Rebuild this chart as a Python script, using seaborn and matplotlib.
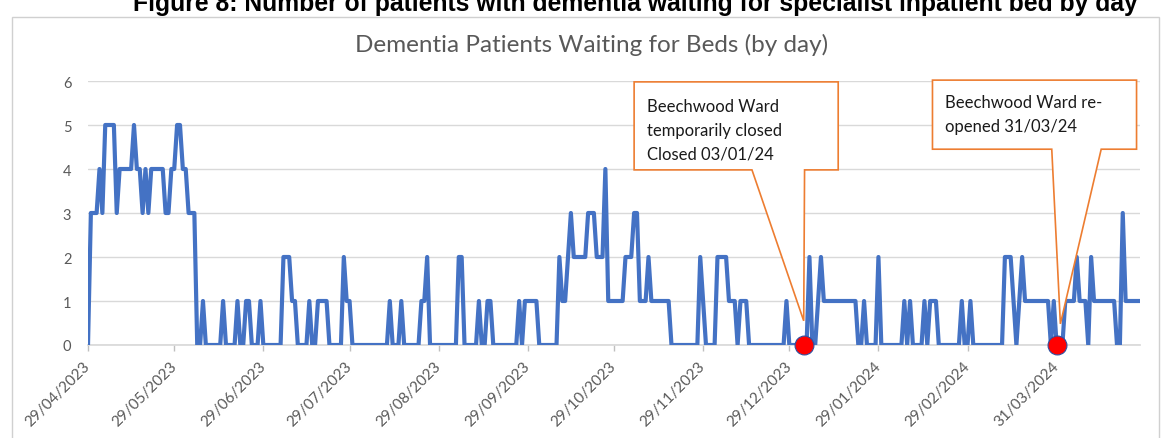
import numpy as np
import pandas as pd
import matplotlib
matplotlib.use("Agg")
import matplotlib.pyplot as plt
import matplotlib.dates as mdates
from matplotlib.patches import Polygon, Rectangle
import seaborn as sns

# ---------------- data ----------------
start_date = "2023-04-29"
patients_waiting = [
    0, 3, 3, 3, 4, 3, 5, 5, 5, 5,
    3, 4, 4, 4, 4, 4, 5, 4, 4, 3,
    4, 3, 4, 4, 4, 4, 4, 3, 3, 4,
    4, 5, 5, 4, 4, 3, 3, 3, 0, 0,
    1, 0, 0, 0, 0, 0, 0, 1, 0, 0,
    0, 0, 1, 0, 0, 1, 1, 0, 0, 0,
    1, 0, 0, 0, 0, 0, 0, 0, 2, 2,
    2, 1, 1, 0, 0, 0, 0, 1, 0, 0,
    1, 1, 1, 1, 0, 0, 0, 0, 0, 2,
    1, 1, 0, 0, 0, 0, 0, 0, 0, 0,
    0, 0, 0, 0, 0, 1, 0, 0, 0, 1,
    0, 0, 0, 0, 0, 0, 1, 1, 2, 0,
    0, 0, 0, 0, 0, 0, 0, 0, 0, 2,
    2, 0, 0, 0, 0, 0, 1, 0, 0, 1,
    1, 0, 0, 0, 0, 0, 0, 0, 0, 0,
    1, 0, 1, 1, 1, 1, 1, 0, 0, 0,
    0, 0, 0, 0, 2, 1, 1, 2, 3, 2,
    2, 2, 2, 2, 3, 3, 3, 2, 2, 2,
    4, 1, 1, 1, 1, 1, 1, 2, 2, 2,
    3, 3, 1, 1, 1, 2, 1, 1, 1, 1,
    1, 1, 1, 0, 0, 0, 0, 0, 0, 0,
    0, 0, 0, 2, 1, 0, 0, 0, 0, 2,
    2, 2, 2, 1, 1, 1, 0, 1, 1, 1,
    0, 0, 0, 0, 0, 0, 0, 0, 0, 0,
    0, 0, 0, 1, 0, 0, 0, 0, 0, 0,
    0, 2, 0, 0, 1, 2, 1, 1, 1, 1,
    1, 1, 1, 1, 1, 1, 1, 1, 0, 0,
    1, 0, 0, 0, 0, 2, 0, 0, 0, 0,
    0, 0, 0, 0, 1, 0, 1, 0, 0, 0,
    0, 1, 0, 1, 1, 1, 0, 0, 0, 0,
    0, 0, 0, 0, 1, 0, 0, 1, 0, 0,
    0, 0, 0, 0, 0, 0, 0, 0, 0, 2,
    2, 2, 1, 0, 1, 2, 1, 1, 1, 1,
    1, 1, 1, 1, 1, 0, 1, 0, 0, 0,
    1, 1, 1, 1, 2, 1, 1, 1, 0, 2,
    1, 1, 1, 1, 1, 1, 1, 1, 0, 0,
    3, 1, 1, 1, 1, 1, 1,
]
tick_labels = ["29/04/2023", "29/05/2023", "29/06/2023", "29/07/2023",
               "29/08/2023", "29/09/2023", "29/10/2023", "29/11/2023",
               "29/12/2023", "29/01/2024", "29/02/2024", "31/03/2024"]
y_ticks = [0, 1, 2, 3, 4, 5, 6]
event_dates = ["2024-01-03", "2024-03-31"]
event_values = [0, 0]
callout_texts = ["Beechwood Ward\ntemporarily closed\nClosed 03/01/24",
                 "Beechwood Ward re-\nopened 31/03/24"]
chart_title = "Dementia Patients Waiting for Beds (by day)"
figure_caption = ("Figure 8: Number of patients with dementia waiting for "
                  "specialist inpatient bed by day")

# ---------------- style ----------------
sns.set_theme(style="white")
plt.rcParams['font.family'] = ['Lato', 'DejaVu Sans']
GREY_TXT = "#595959"
GRID = "#d9d9d9"
LINE = "#4472C4"
ORANGE = "#ED7D31"

W, H = 1167, 439
fig = plt.figure(figsize=(W / 100, H / 100), dpi=100)

# outer chart frame
fig.patches.append(Rectangle((12 / W, -0.05), (1159 - 12) / W, 1 - 18 / H + 0.05,
                             transform=fig.transFigure, fill=False,
                             edgecolor="#d0d0d0", linewidth=1.0))

ax = fig.add_axes([88 / W, 1 - 346 / H, (1140 - 88) / W, (346 - 82) / H])

dates = pd.date_range(start_date, periods=len(patients_waiting), freq="D")
df = pd.DataFrame({"date": dates, "patients": patients_waiting})
sns.lineplot(data=df, x="date", y="patients", ax=ax, color=LINE,
             linewidth=3.0, solid_joinstyle="round", zorder=3)

ax.set_xlim(dates[0], dates[-1])
ax.set_ylim(0, 6)
ax.set_yticks(y_ticks)
tick_dates = pd.to_datetime(tick_labels, format="%d/%m/%Y")
ax.set_xticks(tick_dates)
ax.set_xticklabels(tick_labels, rotation=45, ha="right", va="center",
                   rotation_mode="anchor")
ax.set_xlabel("")
ax.set_ylabel("")
ax.grid(False)
ax.yaxis.grid(True, color=GRID, linewidth=1.0)
ax.set_axisbelow(True)
for s in ["top", "right", "left"]:
    ax.spines[s].set_visible(False)
ax.spines["bottom"].set_color(GRID)
ax.tick_params(axis="x", length=4, width=1, color="#bfbfbf",
               labelsize=11, pad=9, direction="out", bottom=True)
ax.tick_params(axis="y", length=0, labelsize=10.5, labelcolor=GREY_TXT, pad=12)
for lab in ax.get_xticklabels():
    lab.set_color(GREY_TXT)

# callouts (wedge rectangles) anchored on event dates
ev_num = [mdates.date2num(pd.Timestamp(d)) for d in event_dates]
callout_specs = [
    # box edges and notch / tip positions, in days relative to the event date
    dict(l=-59, r=12, t=5.98, b=3.98, nl=-18, nr=0.3, tx=0.0, ty=0.55,
         pad=4.5, ttop=5.62),
    dict(l=-43.2, r=27.8, t=6.02, b=4.45, nl=-1.7, nr=15.5, tx=1.3, ty=0.48,
         pad=4.2, ttop=5.70),
]
for e, spec, txt in zip(ev_num, callout_specs, callout_texts):
    verts = [(e + spec["l"], spec["t"]), (e + spec["r"], spec["t"]),
             (e + spec["r"], spec["b"]), (e + spec["nr"], spec["b"]),
             (e + spec["tx"], spec["ty"]), (e + spec["nl"], spec["b"]),
             (e + spec["l"], spec["b"])]
    poly = Polygon(verts, closed=True, facecolor="white", edgecolor=ORANGE,
                   linewidth=1.2, zorder=4, clip_on=False)
    ax.add_patch(poly)
    ax.text(e + spec["l"] + spec["pad"], spec["ttop"], txt, ha="left",
            va="top", fontsize=12, color="#1a1a1a", linespacing=1.62,
            zorder=5, clip_on=False)

ax.scatter(pd.to_datetime(event_dates), event_values, s=185, color="#FF0000",
           edgecolor="#3050a0", linewidth=0.8, zorder=6, clip_on=False)

fig.text(592 / W, 1 - 45 / H, chart_title, ha="center", va="center",
         fontsize=17.5, color=GREY_TXT)
fig.text(635 / W, 1 - 11 / H, figure_caption, ha="center", va="baseline",
         fontsize=17.8, fontweight="bold", color="black",
         family=["Liberation Sans", "DejaVu Sans"])

fig.savefig("out.png", dpi=100)
